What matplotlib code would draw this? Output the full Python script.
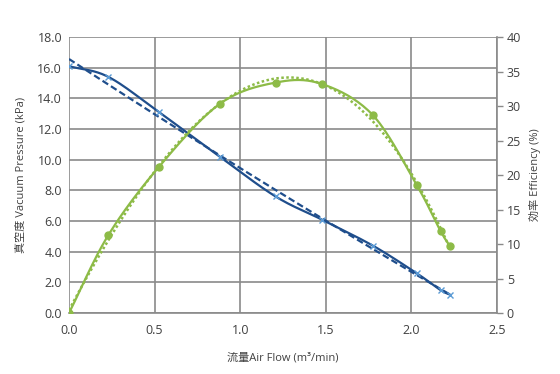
import numpy as np
import matplotlib
matplotlib.use('Agg')
import matplotlib.pyplot as plt

plt.rcParams['font.family'] = ['Open Sans', 'Noto Sans CJK JP', 'DejaVu Sans']

# data
air_flow = [0.0, 0.23, 0.526, 0.88, 1.207, 1.476, 1.774, 2.03, 2.17, 2.225]
vacuum = [16.1, 15.4, 13.1, 10.2, 7.6, 6.1, 4.4, 2.6, 1.5, 1.2]
efficiency = [0.0, 11.3, 21.2, 30.3, 33.4, 33.2, 28.7, 18.6, 11.9, 9.7]

x_ticks = [0.0, 0.5, 1.0, 1.5, 2.0, 2.5]
y_ticks = [0, 2, 4, 6, 8, 10, 12, 14, 16, 18]
eff_ticks = [0, 5, 10, 15, 20, 25, 30, 35, 40]

navy = '#1f4e8c'
light_blue = '#5b9bd5'
green = '#8dbb47'
grid_c = '#8a8a8a'


def smooth(xs, ys, n=20):
    # catmull-rom style smoothing like the spreadsheet "smoothed line"
    xs = np.asarray(xs, float)
    ys = np.asarray(ys, float)
    px = np.concatenate([[2 * xs[0] - xs[1]], xs, [2 * xs[-1] - xs[-2]]])
    py = np.concatenate([[2 * ys[0] - ys[1]], ys, [2 * ys[-1] - ys[-2]]])
    out_x, out_y = [], []
    for i in range(1, len(px) - 2):
        t = np.linspace(0, 1, n, endpoint=False)
        for p, out in ((px, out_x), (py, out_y)):
            p0, p1, p2, p3 = p[i - 1], p[i], p[i + 1], p[i + 2]
            b1 = p1 + (p2 - p0) / 6
            b2 = p2 - (p3 - p1) / 6
            out.extend((1 - t) ** 3 * p1 + 3 * (1 - t) ** 2 * t * b1
                       + 3 * (1 - t) * t ** 2 * b2 + t ** 3 * p2)
    out_x.append(xs[-1])
    out_y.append(ys[-1])
    return out_x, out_y


fig = plt.figure(figsize=(5.6, 3.74), dpi=100)
ax = fig.add_axes([0.1232, 0.163, 0.7643, 0.738])
ax2 = ax.twinx()

# pressure curve
sx, sy = smooth(air_flow, vacuum)
ax.plot(sx, sy, color=navy, lw=1.6, zorder=3)
ax.plot(air_flow, vacuum, ls='none', marker='x', ms=4.5, mew=1,
        color=light_blue, zorder=4)
fit_x = np.linspace(air_flow[0], air_flow[-1], 100)
ax.plot(fit_x, np.polyval(np.polyfit(air_flow, vacuum, 2), fit_x),
        color=navy, lw=1.6, ls=(0, (3, 1.5)), zorder=3)

# efficiency curve
ex, ey = smooth(air_flow, efficiency)
ax2.plot(ex, ey, color=green, lw=1.6, zorder=3)
ax2.plot(air_flow, efficiency, ls='none', marker='o', ms=5,
         color=green, zorder=4)
ax2.plot(fit_x, np.polyval(np.polyfit(air_flow, efficiency, 3), fit_x),
         color=green, lw=1.8, ls=(0, (1, 1)), zorder=3)

ax.set_xlim(0, 2.5)
ax.set_ylim(0, 18)
ax2.set_ylim(0, 40)
ax.set_xticks(x_ticks)
ax.set_xticklabels([f'{v:.1f}' for v in x_ticks])
ax.set_yticks(y_ticks)
ax.set_yticklabels([f'{v:.1f}' for v in y_ticks])
ax2.set_yticks(eff_ticks)

ax.grid(True, color=grid_c, lw=1.2)
ax.set_axisbelow(True)
for s in ['top', 'left']:
    ax.spines[s].set_visible(False)
    ax2.spines[s].set_visible(False)
ax.spines['bottom'].set_color(grid_c)
ax.spines['bottom'].set_linewidth(1.2)
ax.spines['right'].set_visible(False)
ax2.spines['bottom'].set_visible(False)
ax2.spines['right'].set_color(grid_c)
ax2.spines['right'].set_linewidth(1.2)

ax.tick_params(axis='both', length=0, labelsize=9, colors='#404040', pad=5)
ax.tick_params(axis='x', pad=8)
ax2.tick_params(axis='y', length=4, width=1.0, color=grid_c, labelsize=9,
                labelcolor='#404040', pad=3)

ax.set_xlabel('流量Air Flow (m³/min)', fontsize=8, color='#404040', labelpad=11)
ax.set_ylabel('真空度 Vacuum Pressure (kPa)', fontsize=8, color='#404040', labelpad=8)
ax2.set_ylabel('効率 Efficiency (%)', fontsize=8, color='#404040', labelpad=6)

fig.savefig('out.png', dpi=100)
